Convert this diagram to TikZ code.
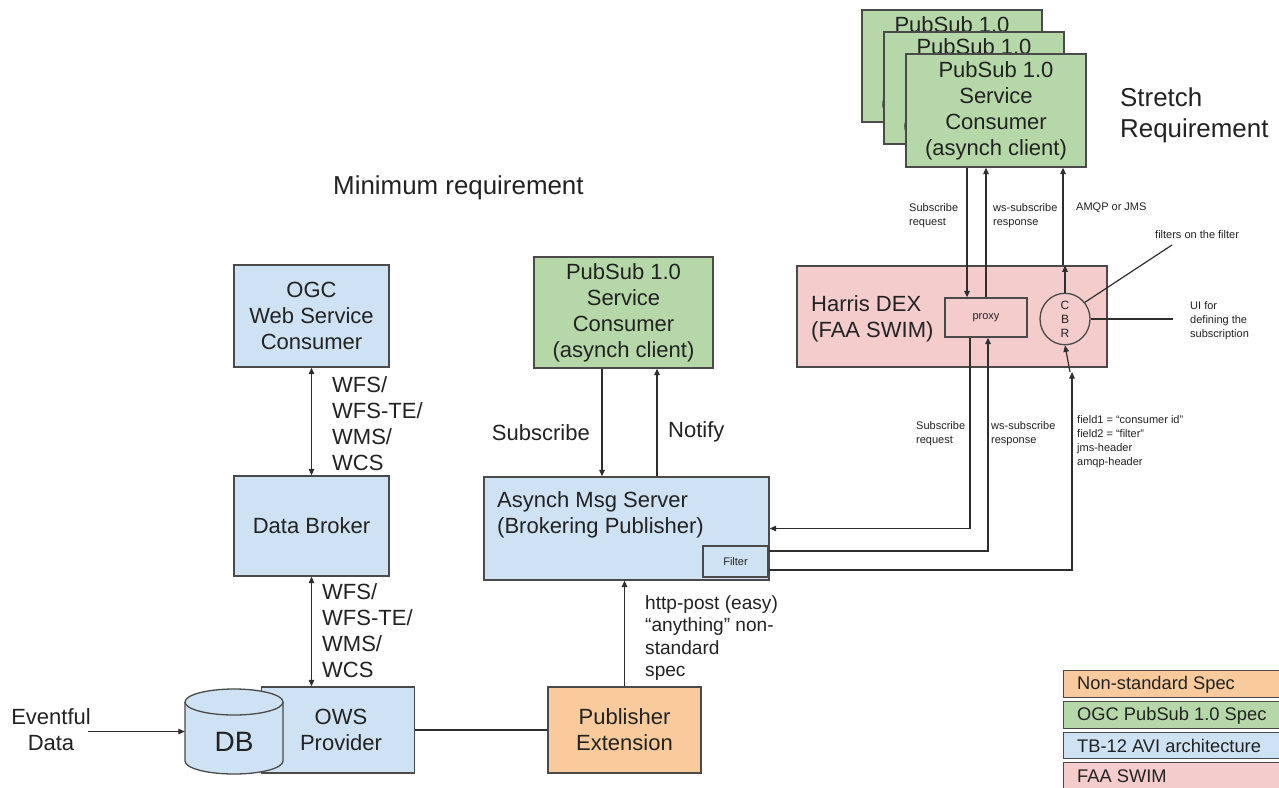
\documentclass[tikz,border=0pt]{standalone}
\usepackage{fontspec}
\setmainfont{Liberation Sans}
\usetikzlibrary{arrows.meta,shapes.geometric,calc}
\definecolor{bluef}{HTML}{CFE2F3}
\definecolor{greenf}{HTML}{B6D7A8}
\definecolor{orangef}{HTML}{F9CB9C}
\definecolor{pinkf}{HTML}{F4CCCC}
\definecolor{edgec}{HTML}{4A4A4A}
\definecolor{linec}{HTML}{2E2E2E}
\definecolor{ink}{HTML}{222222}
\newcommand\fmain{\fontsize{22}{26}\selectfont}
\newcommand\fsmall{\fontsize{11}{14}\selectfont}
\newcommand\flegend{\fontsize{18.3}{22}\selectfont}
\newcommand\ftitle{\fontsize{25.9}{31}\selectfont}
\newcommand\fhttp{\fontsize{19.1}{22.3}\selectfont}
\newcommand\fdb{\fontsize{28}{30}\selectfont}
\begin{document}
\begin{tikzpicture}[x=1pt,y=-1pt,
  box/.style={draw=edgec,line width=1.3pt,inner sep=0pt,align=center,text=ink,font=\fmain},
  txt/.style={inner sep=0pt,align=left,text=ink,anchor=west},
  arr/.style={draw=linec,line width=1.2pt,-{Triangle[length=6.5pt,width=5.5pt]}},
  darr/.style={draw=linec,line width=1.2pt,{Triangle[length=6.5pt,width=5.5pt]}-{Triangle[length=6.5pt,width=5.5pt]}},
  ln/.style={draw=linec,line width=1.2pt}]
\clip (0,0) rectangle (1279,787);
\fill[white] (0,0) rectangle (1279,787);

% titles
\node[txt,font=\ftitle] (mintitle) at (333,188) {Minimum requirement};
\node[txt,font=\ftitle] (strtitle) at (1120,115) {Stretch\\Requirement};

% left column
\node[box,fill=bluef,minimum width=155pt,minimum height=102pt] (ogc) at (311.5,316) {OGC\\Web Service\\Consumer};
\node[box,fill=bluef,minimum width=155pt,minimum height=100pt] (broker) at (311.5,526) {Data Broker};
\node[box,fill=bluef,minimum width=153pt,minimum height=86pt] (ows) at (338,730) {\hspace*{6pt}OWS\\\hspace*{6pt}Provider};

% DB cylinder
\node[inner sep=0pt,minimum width=98pt,minimum height=85pt] (db) at (234,731.5) {};
\fill[bluef] (185,702) -- (185,761) arc[start angle=180,end angle=0,x radius=49,y radius=13] -- (283,702) arc[start angle=0,end angle=-180,x radius=49,y radius=13] -- cycle;
\draw[draw=edgec,line width=1.3pt] (185,702) -- (185,761) arc[start angle=180,end angle=0,x radius=49,y radius=13] -- (283,702) arc[start angle=0,end angle=-180,x radius=49,y radius=13] -- cycle;
\draw[draw=edgec,line width=1.3pt] (185,702) arc[start angle=180,end angle=0,x radius=49,y radius=13];
\node[inner sep=0pt,text=ink,font=\fdb] (dbtext) at (234,742) {DB};

\node[inner sep=0pt,align=center,text=ink,font=\fmain] (evt) at (51,729.5) {Eventful\\Data};

% middle column
\node[box,fill=greenf,minimum width=179pt,minimum height=111pt] (midps) at (623.5,312.5) {PubSub 1.0\\Service\\Consumer\\(asynch client)};
\node[box,fill=bluef,minimum width=285pt,minimum height=103pt] (server) at (626.5,528.5) {};
\node[txt,font=\fmain] (servertext) at (497,515) {Asynch Msg Server\\(Brokering Publisher)};
\node[box,fill=bluef,minimum width=65pt,minimum height=31pt,font=\fsmall] (filter) at (735.5,561.5) {Filter};
\node[box,fill=orangef,minimum width=153pt,minimum height=86pt] (pubext) at (624.5,730) {Publisher\\Extension};

% right: stack of consumers (back copies show only their visible parts)
\node[box,fill=greenf,minimum width=180pt,minimum height=112pt] (ps1) at (952,66) {PubSub 1.0\\\phantom{Service}\\\phantom{Consumer}\\(\phantom{asynch client)}};
\node[box,fill=greenf,minimum width=180pt,minimum height=112pt] (ps2) at (974,88) {PubSub 1.0\\\phantom{Service}\\\phantom{Consumer}\\(\phantom{asynch client)}};
\node[box,fill=greenf,minimum width=180pt,minimum height=113pt] (ps3) at (996,110.5) {PubSub 1.0\\Service\\Consumer\\(asynch client)};

% Harris DEX
\node[box,fill=pinkf,minimum width=310pt,minimum height=101pt] (harris) at (952,316.5) {};
\node[txt,font=\fmain] (harristext) at (811,318.5) {Harris DEX\\(FAA SWIM)};
\node[box,fill=pinkf,minimum width=82pt,minimum height=39pt,font=\fsmall] (proxy) at (986,317.5) {proxy};
\node[box,fill=pinkf,ellipse,minimum width=50pt,minimum height=42pt,font=\fontsize{12}{14}\selectfont] (cbr) at (1065,319) {C\\B\\R};

% left connectors
\draw[darr] (ogc.south) -- (broker.north);
\node[txt,font=\fmain] (wfs1) at (332,424) {WFS/\\WFS-TE/\\WMS/\\WCS};
\draw[darr] (broker.south) -- (broker.south |- ows.north);
\node[txt,font=\fmain] (wfs2) at (322,631) {WFS/\\WFS-TE/\\WMS/\\WCS};
\draw[arr] ([xshift=-3pt]evt.east |- db.west) -- (db.west);
\draw[ln] (ows.east) -- (pubext.west);

% middle connectors
\draw[arr] (pubext.north) -- (pubext.north |- server.south);
\node[txt,font=\fhttp] (httplbl) at (645,638) {http-post (easy)\\“anything” non-\\standard\\spec};
\draw[arr] ([xshift=-21.5pt]midps.south) -- ([xshift=-21.5pt]midps.south |- server.north);
\draw[arr] ([xshift=33.5pt]midps.south |- server.north) -- ([xshift=33.5pt]midps.south);
\node[inner sep=0pt,anchor=east,text=ink,font=\fmain] (sublbl) at (590,433) {Subscribe};
\node[txt,font=\fmain] (notlbl) at (668,432) {Notify};

% top right connectors
\draw[arr] ([xshift=-19pt]proxy.north |- ps3.south) -- ([xshift=-19pt]proxy.north);
\draw[arr] (proxy.north) -- (proxy.north |- ps3.south);
\draw[arr] (cbr.north) -- (cbr.north |- harris.north);
\draw[arr] ([xshift=-2pt]cbr.north |- harris.north) -- ([xshift=-2pt]cbr.north |- ps3.south);
\node[txt,font=\fsmall] (l1) at (909,216) {Subscribe\\request};
\node[txt,font=\fsmall] (l2) at (993,216) {ws-subscribe\\response};
\node[txt,font=\fsmall] (l3) at (1076,208) {AMQP or JMS};

\coordinate (filtend) at (1172,245);
\coordinate (uiend) at (1173,319);
\draw[ln] (cbr.40) -- (filtend);
\draw[ln] (cbr.east) -- (uiend);
\node[txt,font=\fsmall] (l4) at (1155,235) {filters on the filter};
\node[txt,font=\fsmall] (l5) at (1190,321) {UI for\\defining the\\subscription};

% lower right connectors
\draw[arr] ([xshift=-16pt]proxy.south) |- (server.east);
\draw[arr] ([yshift=10.5pt]filter.east) -| ([xshift=2pt]proxy.south);
\coordinate (cbrin) at (1072,372);
\draw[arr] ([yshift=-8.5pt]filter.east) -| (cbrin);
\draw[arr] ([xshift=-2pt]cbrin) -- (cbr.south);
\node[txt,font=\fsmall] (l6) at (916,434) {Subscribe\\request};
\node[txt,font=\fsmall] (l7) at (991,434) {ws-subscribe\\response};
\node[txt,font=\fsmall] (l8) at (1077,442) {field1 = “consumer id”\\field2 = “filter”\\jms-header\\amqp-header};

% legend
\node[box,fill=orangef,minimum width=230pt,minimum height=27pt,anchor=north west] (leg1) at (1063,670) {};
\node[box,fill=greenf,minimum width=230pt,minimum height=27pt,anchor=north west] (leg2) at (1063,701) {};
\node[box,fill=bluef,minimum width=230pt,minimum height=26.5pt,anchor=north west] (leg3) at (1063,731.5) {};
\node[box,fill=pinkf,minimum width=230pt,minimum height=30pt,anchor=north west] (leg4) at (1063,762) {};
\node[txt,font=\flegend] (lt1) at (1077,685) {Non-standard Spec};
\node[txt,font=\flegend] (lt2) at (1077,716) {OGC PubSub 1.0 Spec};
\node[txt,font=\flegend] (lt3) at (1077,746) {TB-12 AVI architecture};
\node[txt,font=\flegend] (lt4) at (1077,776) {FAA SWIM};
\end{tikzpicture}
\end{document}
